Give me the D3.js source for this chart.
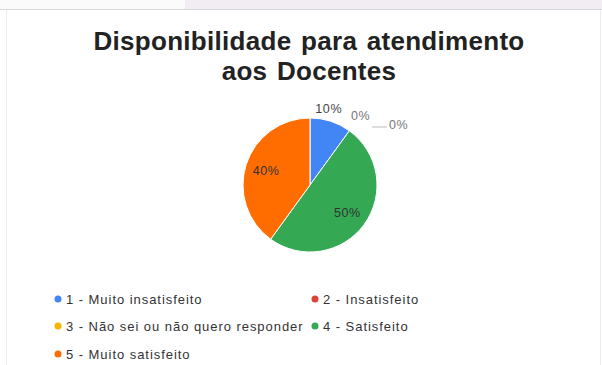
<!DOCTYPE html>
<html>
<head>
<meta charset="utf-8">
<script src="https://cdn.jsdelivr.net/npm/d3@7"></script>
<style>
  body { margin: 0; background: #fff; }
  svg { display: block; font-family: "Liberation Sans", Arial, sans-serif; }
</style>
</head>
<body>
<div id="chart"></div>
<script>
// Chart data
const categories = [
    "1 - Muito insatisfeito",
    "2 - Insatisfeito",
    "3 - Não sei ou não quero responder",
    "4 - Satisfeito",
    "5 - Muito satisfeito"
];
const values = [10, 0, 0, 50, 40];
const colors = ["#4285f4", "#db4437", "#f4b400", "#34a853", "#ff6d01"];
const titleLines = ["Disponibilidade para atendimento", "aos Docentes"];

const width = 602, height = 365;

const svg = d3.select("#chart")
    .append("svg")
    .attr("width", width)
    .attr("height", height);

// Top strip of the surrounding page
svg.append("rect").attr("x", 0).attr("y", 0).attr("width", width).attr("height", 9).attr("fill", "#f1edf3");
svg.append("rect").attr("x", 0).attr("y", 0).attr("width", 185).attr("height", 9).attr("fill", "#fbfbfc");
svg.append("line").attr("x1", 0).attr("x2", width).attr("y1", 9.5).attr("y2", 9.5).attr("stroke", "#d9d7db");
svg.append("line").attr("x1", 6.5).attr("x2", 6.5).attr("y1", 10).attr("y2", height).attr("stroke", "#ececec");
svg.append("line").attr("x1", 600.5).attr("x2", 600.5).attr("y1", 10).attr("y2", height).attr("stroke", "#ececec");

// Title
svg.append("g")
    .selectAll("text")
    .data(titleLines)
    .enter().append("text")
    .attr("x", 309)
    .attr("y", (d, i) => 50 + i * 30)
    .attr("text-anchor", "middle")
    .attr("font-size", 26)
    .attr("font-weight", "bold")
    .attr("letter-spacing", 0.3)
    .attr("word-spacing", 2)
    .attr("fill", "#222")
    .text(d => d);

// Pie
const cx = 310, cy = 185, radius = 67;
const data = categories.map((c, i) => ({ name: c, value: values[i], color: colors[i] }));

const pie = d3.pie().sort(null).value(d => d.value);
const arcs = pie(data);
const arc = d3.arc().innerRadius(0).outerRadius(radius);

const g = svg.append("g").attr("transform", `translate(${cx},${cy})`);

g.selectAll("path")
    .data(arcs.filter(d => d.data.value > 0))
    .enter().append("path")
    .attr("d", arc)
    .attr("fill", d => d.data.color)
    .attr("stroke", "#fff")
    .attr("stroke-width", 1);

// Labels: big slices inside, small ones outside
const inner = d3.arc().innerRadius(radius * 0.69).outerRadius(radius * 0.69);
const total = d3.sum(values);
const pct = d => Math.round(d.data.value / total * 100) + "%";

g.selectAll("text.inside")
    .data(arcs.filter(d => d.data.value / total >= 0.2))
    .enter().append("text")
    .attr("class", "inside")
    .attr("transform", d => `translate(${inner.centroid(d)})`)
    .attr("dy", "0.35em")
    .attr("text-anchor", "middle")
    .attr("font-size", 12.5)
    .attr("letter-spacing", 0.6)
    .attr("fill", "#333")
    .text(pct);

// Outside labels (small/zero slices) - offsets tuned per slice
const outsideIdx = [0, 1, 2];
const outside = arcs.filter((d, i) => outsideIdx.includes(i));
const outerR = [80, 86, 86];
const shiftX = [-6, 0, 0];

outside.forEach((d, k) => {
    const mid = (d.startAngle + d.endAngle) / 2;
    let x = Math.sin(mid) * outerR[k] + shiftX[k];
    let y = -Math.cos(mid) * outerR[k];
    let anchor = "middle";
    if (k === 2) {
        // leader line for the last zero slice
        const lx0 = Math.sin(mid) * (radius + 30), ly = -58;
        g.append("line")
            .attr("x1", lx0 + 5).attr("x2", lx0 + 20)
            .attr("y1", ly).attr("y2", ly)
            .attr("stroke", "#bbb");
        x = lx0 + 22; y = ly - 2; anchor = "start";
    }
    g.append("text")
        .attr("x", x)
        .attr("y", y)
        .attr("dy", "0.35em")
        .attr("text-anchor", anchor)
        .attr("font-size", 12.5)
        .attr("letter-spacing", 0.6)
        .attr("fill", k === 0 ? "#444" : "#777")
        .text(pct(d));
});

// Legend in two columns
const colX = [58, 315];
const rowY = [299, 326, 354];
const legend = svg.append("g")
    .selectAll("g")
    .data(data)
    .enter().append("g")
    .attr("transform", (d, i) => `translate(${colX[i % 2]},${rowY[Math.floor(i / 2)]})`);

legend.append("circle")
    .attr("r", 3.5)
    .attr("fill", d => d.color);

legend.append("text")
    .attr("x", 8)
    .attr("dy", "0.35em")
    .attr("font-size", 13)
    .attr("letter-spacing", 0.95)
    .attr("fill", "#333")
    .text(d => d.name);
</script>
</body>
</html>
